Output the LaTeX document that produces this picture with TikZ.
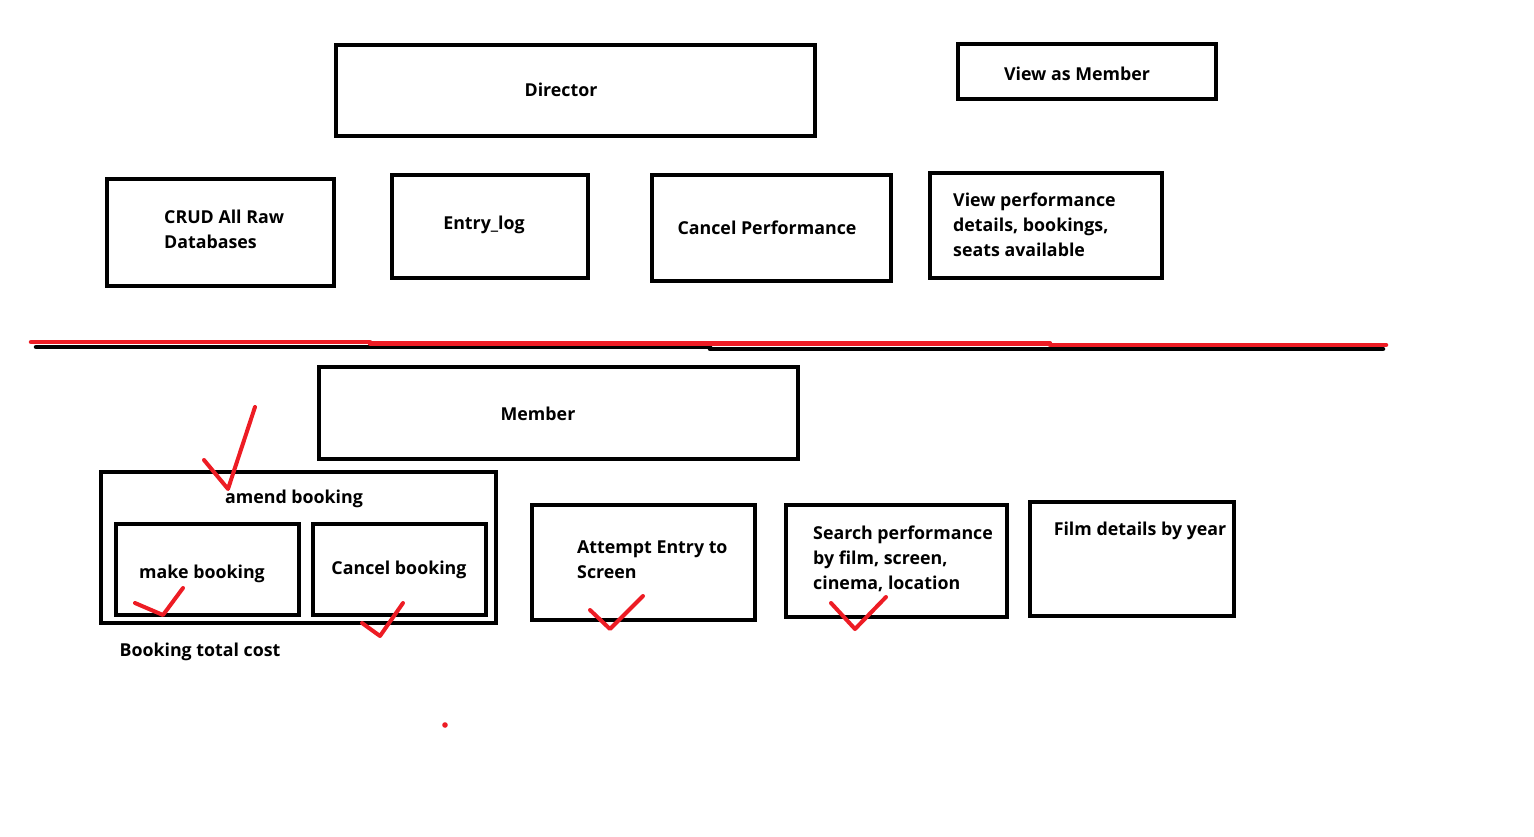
\documentclass[tikz,border=0pt]{standalone}
\usepackage{fontspec}
\setmainfont{Open Sans}
\definecolor{paintred}{RGB}{237,28,36}
\begin{document}
\begin{tikzpicture}[x=1pt,y=-1pt,
  box/.style={draw=black, line width=4.5pt, inner sep=0pt, minimum width=#1},
  txt/.style={font=\fontsize{17.8}{25}\selectfont\bfseries, inner sep=0pt, align=left},
  tick/.style={draw=paintred, line width=4pt, line cap=round, line join=round},
  rule/.style={line width=4.5pt, line cap=round}]
\useasboundingbox (0,0) rectangle (1534,836);
% Director part
\node[box=479, minimum height=91] (dir) at (575.5,90.5) {};
\node[txt] (dirt) at (561,89.5) {Director};
\node[box=258, minimum height=55] (vam) at (1087,71.5) {};
\node[txt] (vamt) at (1077,73.5) {View as Member};
\node[box=227, minimum height=107] (crud) at (220.5,232.5) {};
\node[txt, anchor=west] (crudt) at (164,229) {CRUD All Raw\\Databases};
\node[box=196, minimum height=103] (entry) at (490,226.5) {};
\node[txt] (entryt) at (484,224.5) {Entry\_log};
\node[box=239, minimum height=106] (cancelp) at (771.5,228) {};
\node[txt] (cancelpt) at (767,227.5) {Cancel Performance};
\node[box=232, minimum height=105] (viewp) at (1046,225.5) {};
\node[txt, anchor=west] (viewpt) at (953,224.5) {View performance\\details, bookings,\\seats available};
% separator lines
\coordinate (b1) at (36,347); \coordinate (b2) at (710,347);
\coordinate (b3) at (710,349); \coordinate (b4) at (1383,349);
\draw[rule, black] (b1) -- (b2);
\draw[rule, black] (b3) -- (b4);
\coordinate (r1) at (31,342); \coordinate (r2) at (370,342);
\coordinate (r3) at (370,343.5); \coordinate (r4) at (1050,343.5);
\coordinate (r5) at (1050,345); \coordinate (r6) at (1386,345);
\draw[rule, paintred] (r1) -- (r2);
\draw[rule, paintred] (r3) -- (r4);
\draw[rule, paintred] (r5) -- (r6);
% Member part
\node[box=479, minimum height=92] (member) at (558.5,413) {};
\node[txt] (membert) at (538,413.5) {Member};
\node[box=395, minimum height=151] (amend) at (298.5,547.5) {};
\node[txt] (amendt) at (294,498.5) {amend booking};
\node[box=183, minimum height=91] (make) at (207.5,569.5) {};
\node[txt] (maket) at (202,573.5) {make booking};
\node[box=173, minimum height=91] (cancelb) at (399.5,569.5) {};
\node[txt] (cancelbt) at (399,569.5) {Cancel booking};
\node[txt] (costt) at (200,651.5) {Booking total cost};
\node[box=223, minimum height=115] (attempt) at (643.5,562.5) {};
\node[txt, anchor=west] (attemptt) at (577,560) {Attempt Entry to\\Screen};
\node[box=221, minimum height=112] (search) at (896.5,561) {};
\node[txt, anchor=west] (searcht) at (813,558.5) {Search performance\\by film, screen,\\cinema, location};
\node[box=204, minimum height=114] (film) at (1132,559) {};
\node[txt] (filmt) at (1140,530.5) {Film details by year};
% red ticks
\coordinate (t1a) at (204,460); \coordinate (t1b) at (228,489); \coordinate (t1c) at (255,407);
\draw[tick] (t1a) -- (t1b) -- (t1c);
\coordinate (t2a) at (135,603); \coordinate (t2b) at (163,615); \coordinate (t2c) at (183,588);
\draw[tick] (t2a) -- (t2b) -- (t2c);
\coordinate (t3a) at (362,623); \coordinate (t3b) at (380,636); \coordinate (t3c) at (403,603);
\draw[tick] (t3a) -- (t3b) -- (t3c);
\coordinate (t4a) at (590,610); \coordinate (t4b) at (610,629); \coordinate (t4c) at (643,596);
\draw[tick] (t4a) -- (t4b) -- (t4c);
\coordinate (t5a) at (831,603); \coordinate (t5b) at (855,629); \coordinate (t5c) at (886,597);
\draw[tick] (t5a) -- (t5b) -- (t5c);
\fill[paintred] (445,725) circle (2.8);
\end{tikzpicture}
\end{document}
